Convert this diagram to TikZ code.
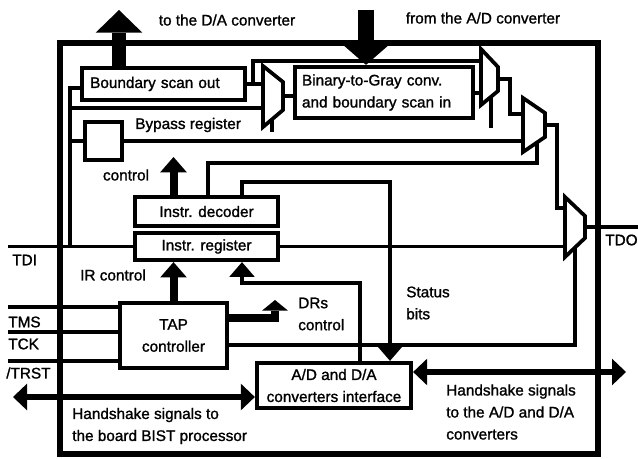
\documentclass[tikz,border=0pt]{standalone}
\usepackage{fontspec}
\setmainfont[UprightFeatures={FakeBold=1.3}]{Liberation Sans}
\usetikzlibrary{arrows.meta,calc}
\newcommand{\lblfont}{\fontsize{11.5}{16.5}\selectfont}
\begin{document}
\begin{tikzpicture}[x=0.75pt,y=-0.75pt,
  every node/.style={inner sep=0pt, font=\lblfont},
  wire/.style={line width=2.8pt},
  box/.style={draw, line width=3.2pt, fill=white},
  outer/.style={line width=3.8pt},
  mux/.style={draw, line width=2.8pt, fill=white, line join=miter},
  medarr/.style={line width=6pt, -{Triangle[width=20pt,length=11.5pt,line width=0pt]}},
  smallarr/.style={wire, -{Triangle[width=19pt,length=11pt,line width=0pt]}},
  hs/.style={line width=5.2pt, {Triangle[width=20pt,length=10.5pt,line width=0pt]}-{Triangle[width=20pt,length=10.5pt,line width=0pt]}}
]
\useasboundingbox (0,0) rectangle (638,459);

% outer frame
\draw[outer] (60,43) rectangle (598,454);

% boxes
\node[box, minimum width=122.25pt, minimum height=24pt, text width=110pt, align=left] (bso) at (163.5,84) {Boundary scan out};
\node[box, minimum width=133.5pt, minimum height=38.25pt, text width=123pt, align=left] (b2g) at (384,92.5) {Binary-to-Gray conv.\\and boundary scan in};
\node[box, minimum width=27.75pt, minimum height=28.5pt] (byp) at (103.5,141) {};
\node[box, minimum width=107.25pt, minimum height=21.75pt] (dec) at (206.5,211.5) {Instr. decoder};
\node[box, minimum width=107.25pt, minimum height=20.25pt] (ireg) at (206.5,246.5) {Instr. register};
\node[box, minimum width=80.25pt, minimum height=48.75pt, align=center] (tap) at (173.5,335.5) {TAP\\controller};
\node[box, minimum width=115.5pt, minimum height=33.75pt, align=center] (adc) at (334,385.5) {A/D and D/A\\converters interface};

% multiplexers
\coordinate (m1tl) at (263,66);  \coordinate (m1tr) at (283,82);
\coordinate (m1br) at (283,110); \coordinate (m1bl) at (263,127);
\coordinate (m2tl) at (481,49);  \coordinate (m2tr) at (498,67);
\coordinate (m2br) at (498,91);  \coordinate (m2bl) at (481,105);
\coordinate (m3tl) at (523,98);  \coordinate (m3tr) at (545,113);
\coordinate (m3br) at (545,137); \coordinate (m3bl) at (523,152);
\coordinate (m4tl) at (565,197); \coordinate (m4tr) at (585,216);
\coordinate (m4br) at (585,238); \coordinate (m4bl) at (565,257);

% mux pins
\coordinate (m1a) at (263,84);  \coordinate (m1b) at (263,108); \coordinate (m1o) at (283,96);
\coordinate (m2a) at (481,61);  \coordinate (m2b) at (481,93);  \coordinate (m2o) at (498,79);
\coordinate (m3a) at (523,114); \coordinate (m3b) at (523,141); \coordinate (m3o) at (545,125);
\coordinate (m4a) at (565,208); \coordinate (m4b) at (565,246.5); \coordinate (m4o) at (585,227);
\coordinate (m1s) at ($(m1bl)!0.45!(m1br)$);
\coordinate (m2s) at ($(m2bl)!0.588!(m2br)$);
\coordinate (m3s) at ($(m3bl)!0.636!(m3br)$);
\coordinate (m4s) at ($(m4bl)!0.5!(m4br)$);

% other coordinates
\coordinate (tdi) at (8,246.5);
\coordinate (j1) at (70,246.5);
\coordinate (br1) at (253,84);
\coordinate (tdo) at (638,227);
\coordinate (c208) at (208,163);
\coordinate (c242) at (242,182);
\coordinate (c390) at (390,182);
\coordinate (c360) at (360,283);
\coordinate (c575) at (575,345);
\coordinate (drsb) at (275,318);
\coordinate (drs) at (275,300);
\coordinate (ctl) at (173.5,157);
\coordinate (dacu) at (119,10);
\coordinate (adcd) at (366,10);
\coordinate (hsl) at (13,397);
\coordinate (hsr) at (626,372);
\coordinate (tms) at (8,307);
\coordinate (tck) at (8,332);
\coordinate (trst) at (8,361);

% wires
\draw[wire] (tdi) -- (ireg.west);
\draw[wire] (j1) |- ([yshift=-3pt]bso.west);
\draw[wire] (j1 |- m1b) -- (m1b);
\draw[wire] (j1 |- byp.west) -- (byp.west);
\draw[wire] (bso.east) -- (m1a);
\draw[wire] (br1) |- (m2a);
\draw[wire] (m1o) -- (m1o -| b2g.west);
\draw[wire] (m2b -| b2g.east) -- (m2b);
\draw[wire] (m2o) -- ++(12,0) |- (m3a);
\draw[wire] (byp.east) -- (byp.east -| m3b);
\draw[wire] (m3o) -- ++(12,0) |- (m4a);
\draw[wire] (ireg.east) -- (m4b);
\draw[wire] (m4o) -- (tdo);
\draw[wire] (m1s) -- ++(0,13);
\draw[wire] (m2s) -- ++(0,31);
\draw[wire] (m3s) |- (c208) -- (c208 |- dec.north);
\draw[smallarr] (c242 |- dec.north) -- (c242) -- (c390) -- (c390 |- adc.north);
\draw[smallarr] (c360 |- adc.north) -- (c360) -| (c242 |- ireg.south);
\draw[wire] (m4s) -- (c575) -- (c575 -| tap.east);
\draw[wire] (tms) -- (tms -| tap.west);
\draw[wire] (tck) -- (tck -| tap.west);
\draw[wire] (trst) -- (trst -| tap.west);

% mux bodies
\draw[mux] (m1tl) -- (m1tr) -- (m1br) -- (m1bl) -- cycle;
\draw[mux] (m2tl) -- (m2tr) -- (m2br) -- (m2bl) -- cycle;
\draw[mux] (m3tl) -- (m3tr) -- (m3br) -- (m3bl) -- cycle;
\draw[mux] (m4tl) -- (m4tr) -- (m4br) -- (m4bl) -- cycle;

% thick arrows
\draw[line width=10.5pt, -{Triangle[width=35pt,length=17pt,line width=0pt]}] (dacu |- bso.north) -- (dacu);
\draw[line width=12pt, -{Triangle[width=34.5pt,length=15pt,line width=0pt]}] (adcd) -- (adcd |- b2g.north);
\draw[medarr] (tap.north) -- (tap.north |- ireg.south);
\draw[medarr] (ctl |- dec.north) -- (ctl);
\draw[line width=6pt, -{Triangle[width=19.5pt,length=8pt,line width=0pt]}] (drsb -| tap.east) -- (drsb) -- (drs);
\draw[hs] (hsl) -- (hsl -| adc.west);
\draw[hs] (hsr -| adc.east) -- (hsr);

% labels
\node (tda) at (227,20) {to the D/A converter};
\node (fad) at (483,18) {from the A/D converter};
\node[anchor=west] (lbyp) at (135,125) {Bypass register};
\node (lctl) at (126,175) {control};
\node (lir) at (113,275) {IR control};
\node[anchor=west, align=left] (ldrs) at (298,314) {DRs\\control};
\node[anchor=west, align=left] (lstat) at (406,303) {Status\\bits};
\node[anchor=west] (ltdi) at (12,260) {TDI};
\node[anchor=west] (ltdo) at (605,240) {TDO};
\node[anchor=west] (ltms) at (8,322) {TMS};
\node[anchor=west] (ltck) at (8,344) {TCK};
\node[anchor=west] (ltrst) at (6,373) {/TRST};
\node[anchor=west, align=left] (lhs1) at (72,426) {Handshake signals to\\the board BIST processor};
\node[anchor=west, align=left] (lhs2) at (446,412) {Handshake signals\\to the A/D and D/A\\converters};
\end{tikzpicture}
\end{document}
